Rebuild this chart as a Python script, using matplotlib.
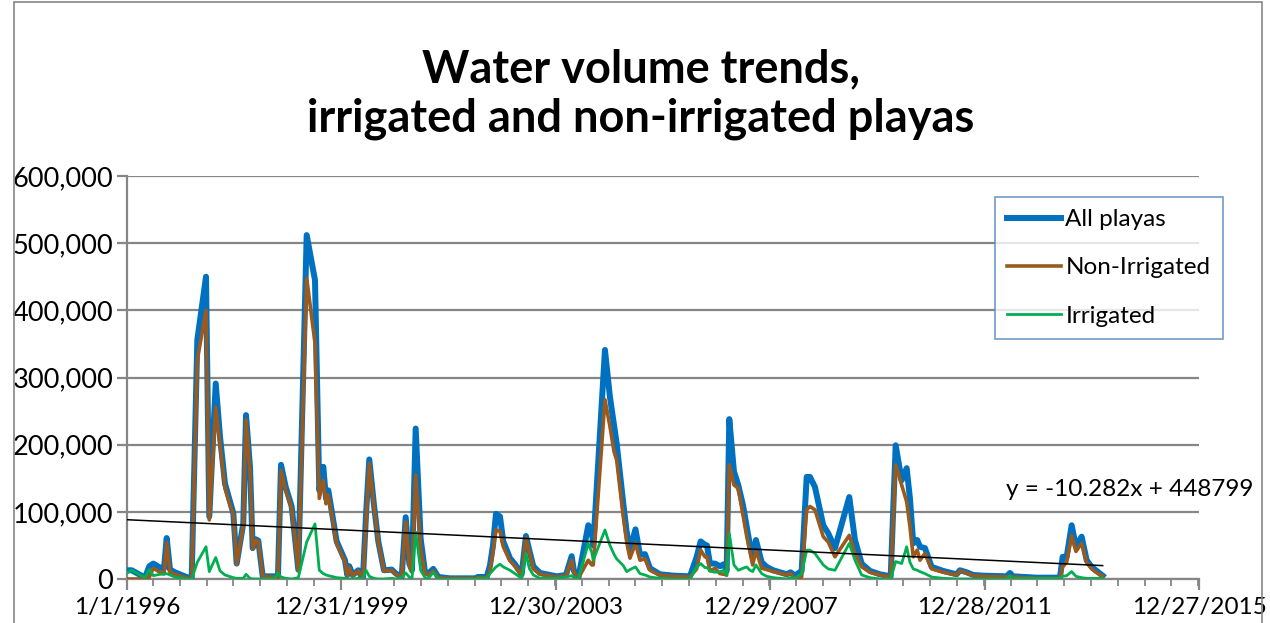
import matplotlib
matplotlib.use("Agg")
import matplotlib.pyplot as plt
import matplotlib.dates as mdates
from matplotlib.ticker import FuncFormatter, FixedLocator, MultipleLocator
from matplotlib.patches import Rectangle
from datetime import datetime, timedelta

plt.rcParams['font.family'] = ['Lato', 'DejaVu Sans']

# sample dates, as decimal years
years = [1996.000, 1996.088, 1996.336, 1996.416, 1996.490, 1996.615, 1996.690, 1996.740,
         1996.802, 1996.895, 1997.137, 1997.206, 1997.311, 1997.473, 1997.534, 1997.654,
         1997.734, 1997.827, 1997.982, 1998.045, 1998.168, 1998.219, 1998.293, 1998.343,
         1998.405, 1998.448, 1998.530, 1998.759, 1998.815, 1998.871, 1998.959, 1999.070,
         1999.194, 1999.350, 1999.505, 1999.585, 1999.660, 1999.710, 1999.753, 1999.909,
         2000.064, 2000.107, 2000.144, 2000.208, 2000.312, 2000.375, 2000.400, 2000.456,
         2000.517, 2000.605, 2000.685, 2000.791, 2000.935, 2001.015, 2001.121, 2001.196,
         2001.263, 2001.313, 2001.382, 2001.475, 2001.556, 2001.612, 2001.710, 2001.804,
         2002.022, 2002.488, 2002.544, 2002.706, 2002.767, 2002.823, 2002.879, 2002.954,
         2003.015, 2003.140, 2003.233, 2003.358, 2003.438, 2003.500, 2003.575, 2003.699,
         2004.011, 2004.184, 2004.290, 2004.333, 2004.413, 2004.600, 2004.663, 2004.693,
         2004.911, 2005.004, 2005.079, 2005.129, 2005.252, 2005.316, 2005.377, 2005.480,
         2005.564, 2005.657, 2005.750, 2005.937, 2006.185, 2006.496, 2006.621, 2006.695,
         2006.776, 2006.813, 2006.869, 2006.962, 2007.055, 2007.130, 2007.180, 2007.229,
         2007.316, 2007.396, 2007.484, 2007.553, 2007.615, 2007.665, 2007.726, 2007.833,
         2007.926, 2008.049, 2008.299, 2008.373, 2008.453, 2008.578, 2008.672, 2008.733,
         2008.826, 2008.981, 2009.074, 2009.199, 2009.466, 2009.572, 2009.697, 2009.852,
         2010.038, 2010.238, 2010.331, 2010.443, 2010.536, 2010.597, 2010.659, 2010.733,
         2010.784, 2010.877, 2011.002, 2011.218, 2011.468, 2011.529, 2011.654, 2011.777,
         2011.964, 2012.400, 2012.462, 2012.518, 2012.959, 2013.394, 2013.444, 2013.519,
         2013.612, 2013.692, 2013.798, 2013.892, 2013.985, 2014.065, 2014.190]

# volumes in thousands
all_playas = [13, 13, 2, 19, 23, 17, 16, 61,
              14, 10, 2, 2, 356, 450, 93, 291,
              212, 142, 98, 23, 83, 244, 167, 46,
              59, 57, 4, 4, 5, 170, 137, 108,
              14, 512, 445, 132, 167, 120, 132, 56,
              28, 6, 19, 6, 13, 3, 3, 95,
              178, 110, 56, 13, 14, 8, 3, 92,
              23, 13, 224, 60, 10, 8, 15, 3,
              1, 1, 3, 3, 20, 50, 97, 93,
              56, 31, 22, 7, 64, 43, 19, 9,
              4, 6, 34, 12, 1, 80, 73, 50,
              341, 271, 230, 202, 113, 70, 43, 74,
              36, 37, 16, 7, 5, 4, 33, 56,
              51, 50, 23, 23, 19, 22, 12, 238,
              160, 140, 110, 78, 50, 33, 58, 25,
              18, 13, 7, 10, 5, 12, 152, 152,
              137, 80, 68, 46, 122, 58, 23, 12,
              7, 4, 199, 147, 165, 120, 53, 58,
              48, 46, 18, 12, 7, 13, 10, 6,
              5, 4, 9, 4, 2, 2, 33, 33,
              80, 48, 63, 28, 18, 13, 5]

non_irrigated = [0, 0, 0, 3, 16, 10, 8, 54,
                 10, 7, 1, 1, 326, 400, 88, 256,
                 200, 135, 95, 22, 80, 237, 160, 45,
                 58, 56, 4, 3, 2, 162, 132, 105,
                 12, 448, 351, 120, 147, 112, 125, 52,
                 26, 5, 17, 5, 12, 2, 2, 82,
                 172, 108, 55, 12, 13, 7, 2, 85,
                 20, 10, 155, 45, 8, 6, 12, 2,
                 1, 1, 2, 2, 12, 40, 73, 71,
                 48, 27, 19, 5, 61, 40, 15, 7,
                 3, 5, 28, 10, 1, 28, 21, 21,
                 267, 227, 190, 177, 93, 55, 31, 53,
                 28, 30, 13, 6, 4, 3, 15, 43,
                 33, 33, 12, 16, 8, 7, 6, 170,
                 140, 135, 95, 64, 40, 21, 43, 16,
                 14, 11, 6, 8, 0, 3, 103, 108,
                 103, 63, 55, 33, 65, 38, 18, 10,
                 6, 3, 170, 140, 115, 78, 33, 43,
                 28, 38, 15, 10, 6, 12, 9, 5,
                 4, 3, 4, 3, 1, 1, 18, 25,
                 65, 41, 53, 25, 15, 10, 4]

irrigated = [9, 13, 2, 14, 5, 7, 7, 8,
             6, 3, 0, 0, 25, 48, 11, 32,
             12, 6, 2, 1, 1, 7, 1, 0,
             0, 0, 0, 1, 9, 3, 1, 0,
             2, 55, 82, 13, 8, 6, 5, 2,
             1, 0, 0, 0, 1, 0, 2, 13,
             4, 1, 0, 0, 1, 0, 2, 9,
             3, 0, 70, 13, 2, 0, 10, 0,
             0, 0, 1, 1, 8, 13, 18, 22,
             18, 13, 8, 1, 38, 16, 6, 1,
             1, 3, 5, 2, 0, 53, 40, 28,
             73, 50, 37, 30, 20, 11, 14, 18,
             8, 6, 3, 1, 0, 0, 18, 23,
             17, 17, 12, 10, 11, 13, 5, 68,
             21, 13, 16, 18, 13, 11, 21, 8,
             4, 2, 0, 2, 1, 8, 43, 43,
             38, 21, 15, 13, 53, 28, 6, 2,
             0, 0, 26, 23, 48, 25, 15, 13,
             11, 8, 3, 1, 0, 0, 0, 0,
             0, 0, 5, 1, 1, 1, 4, 5,
             11, 4, 2, 1, 1, 1, 1]

tick_dates = ['1996-01-01', '1999-12-31', '2003-12-30', '2007-12-29', '2011-12-28', '2015-12-27']
tick_labels = ['1/1/1996', '12/31/1999', '12/30/2003', '12/29/2007', '12/28/2011', '12/27/2015']

# Excel linear trendline on the All playas series (x = Excel date serial)
slope = -10.282
intercept = 448799

dates = [datetime(1996, 1, 1) + timedelta(days=(y - 1996) * 365.25) for y in years]

fig = plt.figure(figsize=(12.7, 6.23), dpi=100)
ax = fig.add_axes([127 / 1270, 1 - 579 / 623, (1199 - 127) / 1270, (579 - 176) / 623])

ax.plot(dates, [v * 1000 for v in all_playas], color='#0070C0', lw=4.3,
        solid_joinstyle='round', label='All playas', zorder=3)
ax.plot(dates, [v * 1000 for v in non_irrigated], color='#9A5A1E', lw=2.6,
        solid_joinstyle='round', label='Non-Irrigated', zorder=4)
ax.plot(dates, [v * 1000 for v in irrigated], color='#00B050', lw=2.0,
        solid_joinstyle='round', label='Irrigated', zorder=5)

# trendline over the data range
t0 = mdates.date2num(dates[0])
t1 = mdates.date2num(dates[-1])
trend_y = [slope * (t + 25569) + intercept for t in (t0, t1)]
ax.plot([dates[0], dates[-1]], trend_y, color='black', lw=1.1, zorder=6)

ax.set_xlim(datetime(1996, 1, 1), datetime(2015, 12, 27))
ax.set_ylim(0, 600000)

ax.xaxis.set_major_locator(FixedLocator([mdates.datestr2num(d) for d in tick_dates]))
ax.set_xticklabels(tick_labels)
ax.xaxis.set_minor_locator(MultipleLocator(182.5))
ax.yaxis.set_major_locator(MultipleLocator(100000))
ax.yaxis.set_major_formatter(FuncFormatter(lambda v, p: '{:,.0f}'.format(v)))

gray = '#868686'
ax.yaxis.grid(True, color=gray, lw=1.6, zorder=0)
ax.set_axisbelow(True)
for s in ['top', 'right']:
    ax.spines[s].set_visible(False)
ax.spines['left'].set_color(gray)
ax.spines['bottom'].set_color(gray)
ax.spines['left'].set_linewidth(1.6)
ax.spines['bottom'].set_linewidth(1.6)
ax.tick_params(axis='y', colors=gray, length=7, width=1.6, labelcolor='black',
               labelsize=19.5, pad=3)
ax.tick_params(axis='x', which='major', colors=gray, length=8, width=1.6,
               labelcolor='black', labelsize=17.5, pad=5)
ax.tick_params(axis='x', which='minor', colors=gray, length=5, width=1.3)

leg = ax.legend(loc='upper left', bbox_to_anchor=((995 - 127) / 1072, (579 - 197) / 403),
                fontsize=17.5, frameon=True, fancybox=False, handlelength=2.2,
                handletextpad=0.2, labelspacing=1.12, borderpad=0.5, borderaxespad=0)
leg.get_frame().set_edgecolor('#4F81BD')
leg.get_frame().set_linewidth(1.2)

fig.text(1006 / 1270, 1 - 490 / 623, 'y = -10.282x + 448799', fontsize=17.5,
         ha='left', va='center')

fig.text(641 / 1270, 1 - 94 / 623, 'Water volume trends,\nirrigated and non-irrigated playas',
         fontsize=32.5, fontweight='bold', ha='center', va='center', linespacing=1.2)

# chart area border
fig.patches.append(Rectangle((14 / 1270, -0.01), (1262 - 14) / 1270, 1.01 - 2 / 623,
                             transform=fig.transFigure, fill=False,
                             edgecolor=gray, lw=1.2))

fig.savefig('out.png', dpi=100)
